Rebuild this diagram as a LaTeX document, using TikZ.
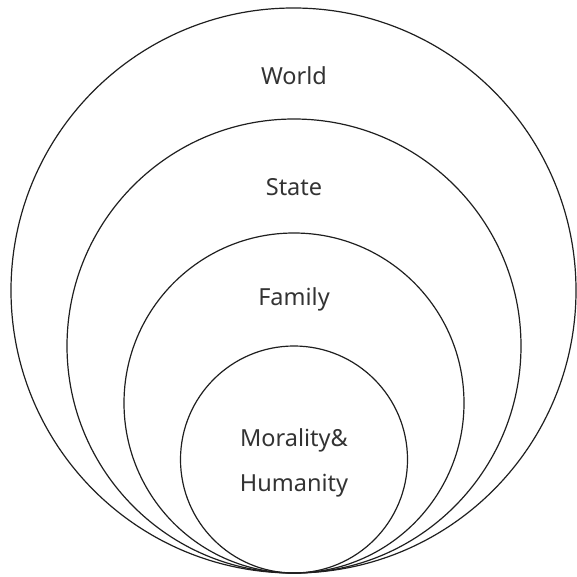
\documentclass[tikz,border=0pt]{standalone}
\usepackage{fontspec}
\setmainfont{Noto Sans}
\begin{document}
\begin{tikzpicture}[x=1pt,y=-1pt,
  ring/.style={draw=black!88,line width=1.2pt},
  lbl/.style={anchor=base,text=black!80,font=\fontsize{23.5}{45.5}\selectfont,inner sep=0pt,align=center}]
\useasboundingbox (0,0) rectangle (577,577);
% nested circles, all touching at the bottom point
\draw[ring] (293.5,290.5) circle (282.5pt);
\draw[ring] (294,346) circle (227pt);
\draw[ring] (294,403) circle (170pt);
\draw[ring] (294,459.5) circle (113.5pt);
% labels (the two-line label is placed by its last baseline)
\node[lbl] (world) at (294,84.5) {World};
\node[lbl] (state) at (294,196) {State};
\node[lbl] (family) at (294,305) {Family};
\node[lbl] (moral) at (294,491.5) {Morality\&\\Humanity};
\end{tikzpicture}
\end{document}
